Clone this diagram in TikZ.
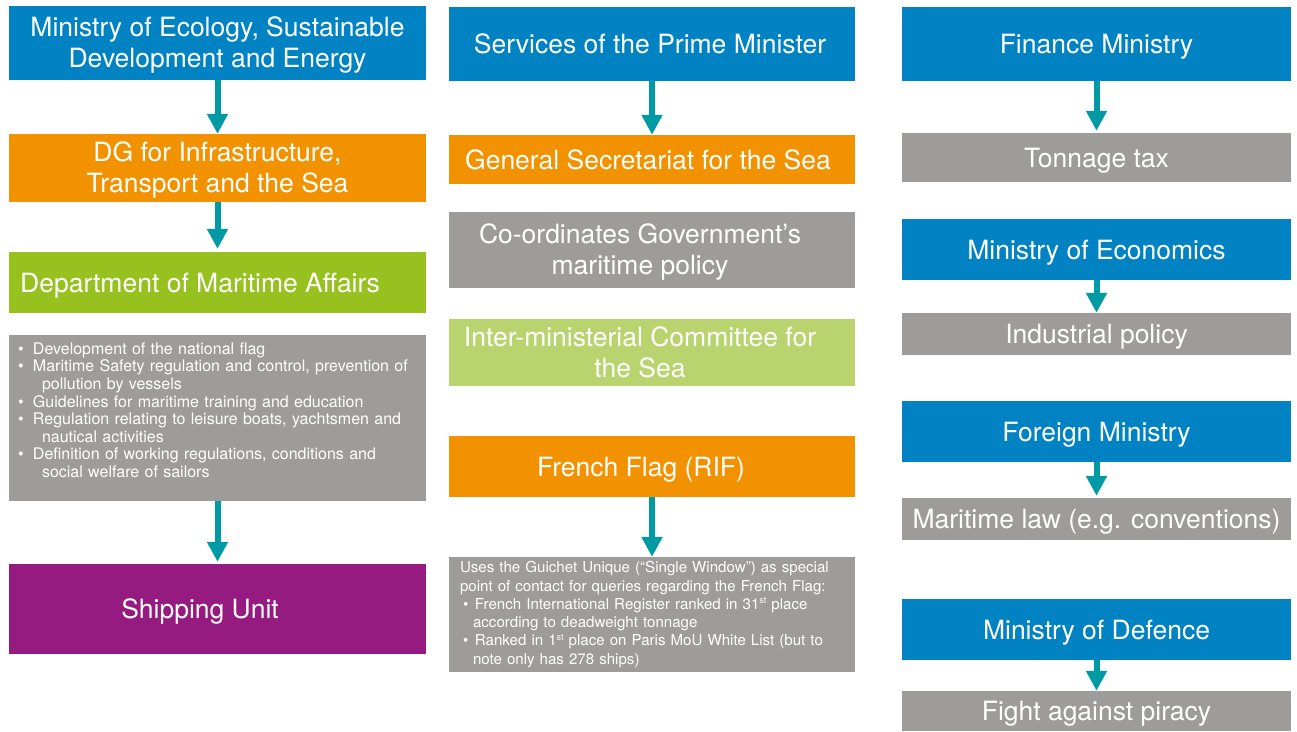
\documentclass[tikz,border=0pt]{standalone}
\usepackage{fontspec}
\setmainfont{TeX Gyre Heros}
\usetikzlibrary{arrows.meta,positioning}
\definecolor{minColor}{HTML}{0082C3}
\definecolor{dgColor}{HTML}{F39200}
\definecolor{depColor}{HTML}{96C11F}
\definecolor{comColor}{HTML}{B9D36F}
\definecolor{taskColor}{HTML}{9D9C9B}
\definecolor{unitColor}{HTML}{951B81}
\definecolor{flowColor}{HTML}{009AA4}
\newcommand{\bigfont}{\fontsize{26.5}{31}\selectfont}
\newcommand{\notefont}{\fontsize{16}{17.6}\selectfont}
\newcommand{\guichetfont}{\fontsize{15.1}{18.3}\selectfont}
\newcommand{\twoline}[1]{\begin{tabular}{@{}c@{}}#1\end{tabular}}
\newcommand{\bul}[1]{\makebox[#1][l]{\textbullet}}
\newcommand{\ord}[1]{\raisebox{5.5pt}{\fontsize{9}{9}\selectfont #1}}
\tikzset{
	org box/.style={rectangle, inner sep=0pt, text=white, font=\bigfont,
		text height=19pt, text depth=0pt},
	ministry box/.style={org box, fill=minColor},
	dg box/.style={org box, fill=dgColor},
	dept box/.style={org box, fill=depColor},
	committee box/.style={org box, fill=comColor},
	task box/.style={org box, fill=taskColor},
	unit box/.style={org box, fill=unitColor},
	note box/.style={rectangle, inner sep=0pt, text=white, fill=taskColor, align=left},
	col 1/.style={minimum width=417pt},
	col 2/.style={minimum width=406pt},
	col 3/.style={minimum width=389pt},
	nudge/.style={execute at end node={\hspace*{#1}}},
	flow/.style={->, flowColor, line width=6pt}
}
\begin{document}
\begin{tikzpicture}[x=1pt, y=-1pt, >={Triangle[width=20pt,length=20pt]}]
	\useasboundingbox (0,0) rectangle (1297,731);
	% ecology ministry column
	\node[ministry box, col 1, minimum height=74pt] at (217.5,43) (eco) {\twoline{Ministry of Ecology, Sustainable\\Development and Energy}};
	\node[dg box, col 1, minimum height=68pt] at (217.5,168) (dgitm) {\twoline{DG for Infrastructure,\\Transport and the Sea}};
	\node[dept box, col 1, minimum height=61pt, nudge=35pt] at (217.5,282.5) (dam) {Department of Maritime Affairs};
	\node[note box, col 1, minimum height=166pt, text width=399pt, font=\notefont] at (217.5,418) (tasks) {\bul{15pt}Development of the national flag\\
		\bul{15pt}Maritime Safety regulation and control, prevention of\\
		\hspace*{24pt}pollution by vessels\\
		\bul{15pt}Guidelines for maritime training and education\\
		\bul{15pt}Regulation relating to leisure boats, yachtsmen and\\
		\hspace*{24pt}nautical activities\\
		\bul{15pt}Definition of working regulations, conditions and\\
		\hspace*{24pt}social welfare of sailors\rule[-16pt]{0pt}{16pt}};
	\node[unit box, col 1, minimum height=90pt, nudge=35pt] at (217.5,609) (ship) {Shipping Unit};
	% prime minister column
	\node[ministry box, col 2, minimum height=74pt, nudge=4pt] at (652,44) (spm) {Services of the Prime Minister};
	\node[dg box, col 2, minimum height=49pt, nudge=8pt] at (652,159.5) (sgmer) {General Secretariat for the Sea};
	\node[task box, col 2, minimum height=76pt, nudge=24pt] at (652,250) (coord) {\twoline{Co-ordinates Government’s\\maritime policy}};
	\node[committee box, col 2, minimum height=67pt, nudge=24pt] at (652,352.5) (cimer) {\twoline{Inter-ministerial Committee for\\the Sea}};
	\node[dg box, col 2, minimum height=61pt, nudge=22pt] at (652,466.5) (rif) {French Flag (RIF)};
	\node[note box, col 2, minimum height=115pt, text width=384pt, font=\guichetfont] at (652,614.5) (guichet) {Uses the Guichet Unique (“Single Window”) as special\\
		point of contact for queries regarding the French Flag:\\
		\hspace*{3pt}\bul{12pt}French International Register ranked in 31\ord{st} place\\
		\hspace*{13pt}according to deadweight tonnage\\
		\hspace*{3pt}\bul{12pt}Ranked in 1\ord{st} place on Paris MoU White List (but to\\
		\hspace*{13pt}note only has 278 ships)};
	% other ministries
	\node[ministry box, col 3, minimum height=74pt] at (1096.5,44) (fin) {Finance Ministry};
	\node[task box, col 3, minimum height=49pt] at (1096.5,157.5) (tax) {Tonnage tax};
	\node[ministry box, col 3, minimum height=61pt] at (1096.5,249.5) (econ) {Ministry of Economics};
	\node[task box, col 3, minimum height=42pt] at (1096.5,334) (ind) {Industrial policy};
	\node[ministry box, col 3, minimum height=61pt] at (1096.5,431.5) (foreign) {Foreign Ministry};
	\node[task box, col 3, minimum height=42pt] at (1096.5,519) (law) {Maritime law (e.g. conventions)};
	\node[ministry box, col 3, minimum height=61pt] at (1096.5,629.5) (defence) {Ministry of Defence};
	\node[task box, col 3, minimum height=40pt] at (1096.5,711) (piracy) {Fight against piracy};
	\path (eco) edge[flow] (dgitm);
	\path (dgitm) edge[flow, shorten >=3pt] (dam);
	\path (tasks) edge[flow, shorten >=2pt] (ship);
	\path (spm) edge[flow] (sgmer);
	\path (rif) edge[flow] (guichet);
	\path (fin) edge[flow, shorten >=2pt] (tax);
	\path (econ) edge[flow] (ind);
	\path (foreign) edge[flow, shorten >=2pt] (law);
	\path (defence) edge[flow] (piracy);
\end{tikzpicture}
\end{document}
